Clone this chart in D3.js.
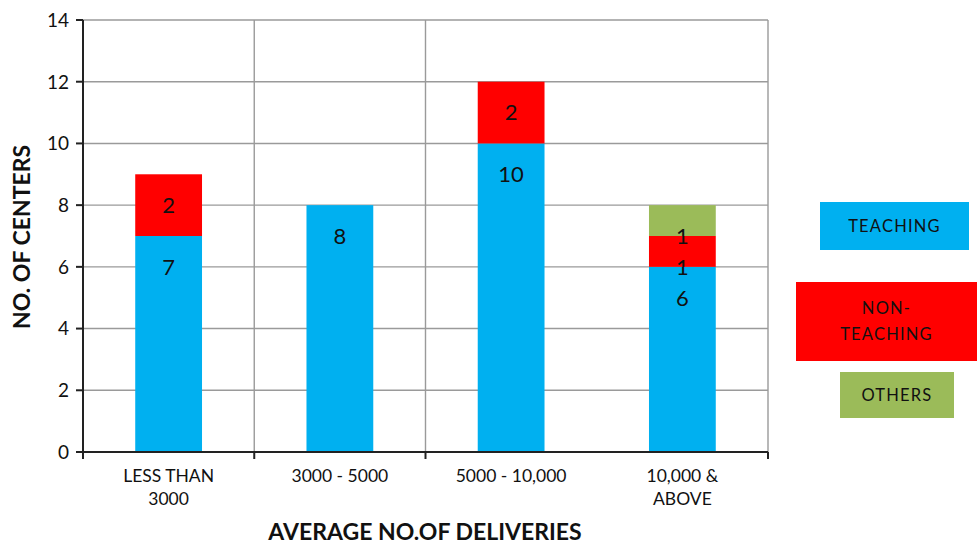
<!DOCTYPE html>
<html><head><meta charset="utf-8">
<script src="https://cdn.jsdelivr.net/npm/d3@7"></script>
<style>body{margin:0;background:#fff}svg{display:block}text{font-family:Lato,"Open Sans",sans-serif}</style>
</head><body><svg id="c" width="980" height="546"></svg>
<script>
const categories = ["LESS THAN|3000", "3000 - 5000", "5000 - 10,000", "10,000 &|ABOVE"];
const teaching = [7, 8, 10, 6];
const nonTeaching = [2, 0, 2, 1];
const others = [0, 0, 0, 1];
const seriesNames = ["TEACHING", "NON-|TEACHING", "OTHERS"];
const seriesColors = ["#00B0F0", "#FF0000", "#9BBB59"];
const yTicks = [0, 2, 4, 6, 8, 10, 12, 14];

const svg = d3.select("#c");
const M = {l: 83, r: 768, t: 20, b: 452};
const x = d3.scaleBand().domain(d3.range(categories.length)).range([M.l, M.r]).paddingInner(0.61).paddingOuter(0.305);
const xb = d3.scaleLinear().domain([0, categories.length]).range([M.l, M.r]);
const y = d3.scaleLinear().domain([0, 14]).range([M.b, M.t]);

// horizontal gridlines
svg.append("g").selectAll("line").data(yTicks.filter(d => d > 0)).join("line")
  .attr("x1", M.l).attr("x2", M.r).attr("y1", d => y(d)).attr("y2", d => y(d))
  .attr("stroke", "#9a9a9a").attr("stroke-width", 1.4);
// vertical gridlines (only at some boundaries, as in reference)
const vBounds = [1, 2, 4];
svg.append("g").selectAll("line").data(vBounds).join("line")
  .attr("x1", d => xb(d)).attr("x2", d => xb(d)).attr("y1", M.t).attr("y2", M.b)
  .attr("stroke", "#9a9a9a").attr("stroke-width", 1.4);

const table = categories.map((c, i) => ({i, teaching: teaching[i], non: nonTeaching[i], others: others[i]}));
const stack = d3.stack().keys(["teaching", "non", "others"])(table);

stack.forEach((layer, si) => {
  const g = svg.append("g");
  g.selectAll("rect").data(layer.filter(d => d[1] > d[0])).join("rect")
    .attr("x", d => x(d.data.i)).attr("width", x.bandwidth())
    .attr("y", d => y(d[1])).attr("height", d => y(d[0]) - y(d[1]))
    .attr("fill", seriesColors[si]);
});
stack.forEach((layer, si) => {
  svg.append("g").selectAll("text").data(layer.filter(d => d[1] > d[0])).join("text")
    .attr("x", d => x(d.data.i) + x.bandwidth() / 2)
    .attr("y", d => y(d[1] - 1))
    .attr("dy", "0.36em").attr("text-anchor", "middle")
    .attr("font-size", 22).attr("fill", "#111")
    .text(d => d[1] - d[0]);
});

// axes
const ax = svg.append("g");
ax.append("line").attr("x1", M.l).attr("x2", M.l).attr("y1", M.t).attr("y2", M.b).attr("stroke", "#222").attr("stroke-width", 2);
ax.append("line").attr("x1", M.l - 7).attr("x2", M.r).attr("y1", M.b).attr("y2", M.b).attr("stroke", "#222").attr("stroke-width", 2);
ax.selectAll(".yt").data(yTicks).join("line").attr("class", "yt")
  .attr("x1", M.l - 7).attr("x2", M.l).attr("y1", d => y(d)).attr("y2", d => y(d)).attr("stroke", "#222").attr("stroke-width", 2);
ax.selectAll(".yl").data(yTicks).join("text").attr("class", "yl")
  .attr("x", M.l - 14).attr("y", d => y(d)).attr("dy", "0.36em").attr("text-anchor", "end")
  .attr("font-size", 19).attr("fill", "#111").text(d => d);
ax.selectAll(".xt").data([0, 1, 2, 4]).join("line").attr("class", "xt")
  .attr("x1", d => xb(d)).attr("x2", d => xb(d)).attr("y1", M.b).attr("y2", M.b + 7).attr("stroke", "#222").attr("stroke-width", 2);
ax.selectAll(".xl").data(categories).join("text").attr("class", "xl")
  .attr("x", (d, i) => x(i) + x.bandwidth() / 2).attr("y", 482)
  .attr("text-anchor", "middle").attr("font-size", 17.5).attr("fill", "#111")
  .each(function(d) {
    d.split("|").forEach((t, k) => d3.select(this).append("tspan").attr("x", d3.select(this).attr("x")).attr("dy", k ? 23 : 0).text(t));
  });

svg.append("text").attr("x", 425).attr("y", 540).attr("text-anchor", "middle")
  .attr("font-size", 23).attr("font-weight", "bold").attr("fill", "#111").text("AVERAGE NO.OF DELIVERIES");
svg.append("text").attr("transform", "translate(30,237) rotate(-90)").attr("text-anchor", "middle")
  .attr("font-size", 23).attr("font-weight", "bold").attr("fill", "#111").text("NO. OF CENTERS");

// legend boxes
const legendBoxes = [
  {x: 820, y: 202, w: 149, h: 48},
  {x: 796, y: 282, w: 181, h: 79},
  {x: 840, y: 372, w: 114, h: 46}
];
const lg = svg.append("g");
seriesNames.forEach((n, i) => {
  const b = legendBoxes[i];
  lg.append("rect").attr("x", b.x).attr("y", b.y).attr("width", b.w).attr("height", b.h).attr("fill", seriesColors[i]);
  const lines = n.split("|");
  const t = lg.append("text").attr("text-anchor", "middle").attr("font-size", 16.5).attr("letter-spacing", 1.2).attr("fill", "#111");
  lines.forEach((s, k) => t.append("tspan").attr("x", b.x + b.w / 2)
    .attr("y", b.y + b.h / 2 + (k - (lines.length - 1) / 2) * 26).attr("dy", "0.35em").text(s));
});
</script></body></html>
